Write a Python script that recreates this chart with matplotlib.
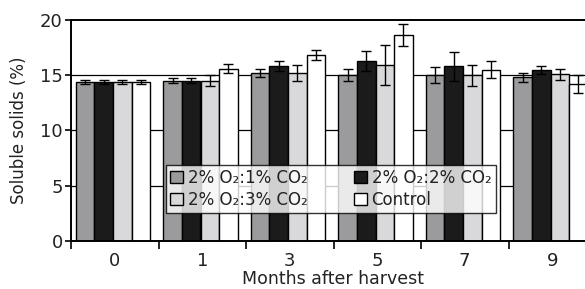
import matplotlib
matplotlib.use("Agg")
import matplotlib.pyplot as plt
import numpy as np

months = ["0", "1", "3", "5", "7", "9"]
series_names = ["2% O\u2082:1% CO\u2082", "2% O\u2082:2% CO\u2082", "2% O\u2082:3% CO\u2082", "Control"]
vals_1 = [14.4, 14.5, 15.2, 15.0, 15.0, 14.8]
err_1 = [0.2, 0.25, 0.4, 0.55, 0.75, 0.4]
vals_2 = [14.4, 14.5, 15.8, 16.3, 15.8, 15.5]
err_2 = [0.2, 0.2, 0.45, 0.9, 1.3, 0.35]
vals_3 = [14.4, 14.5, 15.2, 15.9, 15.0, 15.1]
err_3 = [0.2, 0.5, 0.7, 1.8, 0.95, 0.5]
vals_4 = [14.4, 15.6, 16.8, 18.65, 15.5, 14.2]
err_4 = [0.2, 0.4, 0.45, 1.0, 0.75, 0.8]
colors = ["#9b9b9e", "#1b1b1b", "#d9d9db", "#ffffff"]
txt = "#222222"

fig = plt.figure(figsize=(5.85, 2.89), dpi=100)
ax = fig.add_axes([71/585, 1-240.7/289, 525/585, (240.7-20)/289])

x = np.arange(len(months))
w = 0.2115
start = 0.057
handles = []
for i, (v, e) in enumerate([(vals_1, err_1), (vals_2, err_2), (vals_3, err_3), (vals_4, err_4)]):
    pos = x + start + w * (i + 0.5)
    b = ax.bar(pos, v, width=w, color=colors[i], edgecolor="black", linewidth=1.0, zorder=2,
               label=series_names[i])
    ax.errorbar(pos, v, yerr=e, fmt="none", ecolor="black", elinewidth=1.0, capsize=3.3,
                capthick=1.0, zorder=3)
    handles.append(b)

for yv in [5, 10, 15]:
    ax.axhline(yv, color="black", linewidth=0.9, zorder=1)

ax.set_xlim(0, 6)
ax.set_ylim(0, 20)
ax.set_yticks([0, 5, 10, 15, 20])
ax.set_xticks(np.arange(0, 7))
ax.set_xticklabels([])
ax.set_xticks(x + 0.5, minor=True)
ax.set_xticklabels(months, minor=True, fontsize=13, color=txt)
ax.tick_params(axis="x", which="minor", length=0, pad=8)
ax.tick_params(axis="x", which="major", length=6, width=1.2, direction="out")
ax.tick_params(axis="y", length=4, width=1.2, labelsize=13, pad=2, labelcolor=txt)
for s in ["left", "bottom", "top"]:
    ax.spines[s].set_linewidth(1.4)
ax.spines["right"].set_visible(False)

ax.set_ylabel("Soluble solids (%)", fontsize=12, color=txt)
ax.yaxis.set_label_coords(-0.082, 0.5)
ax.set_xlabel("Months after harvest", fontsize=12.5, color=txt)
ax.xaxis.set_label_coords(0.5, -0.135)

leg = ax.legend([handles[0], handles[2], handles[1], handles[3]],
                [series_names[0], series_names[2], series_names[1], series_names[3]],
                ncol=2, loc="lower left", bbox_to_anchor=((166-71)/525, (240.7-212.7)/220.7),
                fontsize=12, frameon=True, fancybox=False, edgecolor="black",
                handlelength=0.75, handleheight=0.75, handletextpad=0.3, columnspacing=2.8,
                borderpad=0.25, labelspacing=0.2, borderaxespad=0)
for t in leg.get_texts():
    t.set_color(txt)
leg.get_frame().set_linewidth(1.0)
leg.set_zorder(5)

fig.savefig("out.png", dpi=100)
